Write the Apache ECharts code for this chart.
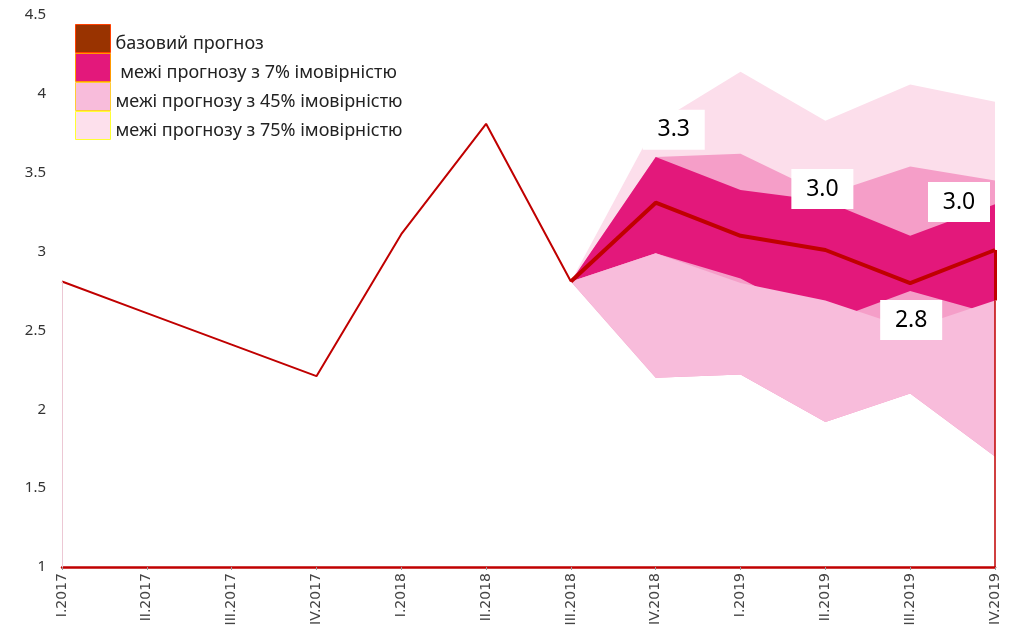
<!DOCTYPE html>
<html>
<head>
<meta charset="utf-8">
<script src="https://cdn.jsdelivr.net/npm/echarts@6/dist/echarts.min.js"></script>
<style>
  html, body { margin: 0; padding: 0; background: #fff; }
  #chart { width: 1015px; height: 630px; }
</style>
</head>
<body>
<div id="chart"></div>
<script>
var categories = ['I.2017', 'II.2017', 'III.2017', 'IV.2017', 'I.2018', 'II.2018',
                  'III.2018', 'IV.2018', 'I.2019', 'II.2019', 'III.2019', 'IV.2019'];
// фактичні дані (I.2017 - III.2018)
var actual = [2.81, 2.61, 2.41, 2.21, 3.11, 3.81, 2.81];
// прогноз (III.2018 - IV.2019)
var baseline = [2.81, 3.31, 3.10, 3.01, 2.80, 3.01];
var upper75 = [2.81, 3.81, 4.14, 3.83, 4.06, 3.95];
var upper45 = [2.81, 3.60, 3.62, 3.36, 3.54, 3.45];
var upper7 = [2.81, 3.60, 3.39, 3.32, 3.10, 3.30];
var lower7 = [2.81, 2.99, 2.83, 2.55, 2.75, 2.60];
var lower45 = [2.81, 2.99, 2.80, 2.69, 2.51, 2.69];
var lower75 = [2.81, 2.20, 2.22, 1.92, 2.10, 1.70];
var labelShown = [false, true, false, true, true, true];

var nameBase = 'базовий прогноз';
var name7 = 'межі прогнозу з 7% імовірністю';
var name45 = 'межі прогнозу з 45% імовірністю';
var name75 = 'межі прогнозу з 75% імовірністю';

var startIdx = categories.length - baseline.length;

function pad(arr) {
    var out = [];
    for (var i = 0; i < startIdx; i++) out.push('-');
    return out.concat(arr);
}

function diff(hi, lo) {
    return hi.map(function (v, i) { return +(v - lo[i]).toFixed(3); });
}

// смуга між lo та hi через stack
function band(name, lo, hi, color) {
    return [{
        name: name + '_lo',
        type: 'line',
        stack: name,
        data: pad(lo),
        symbol: 'none',
        silent: true,
        lineStyle: { width: 0, opacity: 0 }
    }, {
        name: name,
        type: 'line',
        stack: name,
        data: pad(diff(hi, lo)),
        symbol: 'none',
        silent: true,
        lineStyle: { width: 0, opacity: 0 },
        itemStyle: { color: color },
        areaStyle: { color: color, opacity: 1 }
    }];
}

var labelOffsets = [null, [18, -73], null, [-3, -61], [1, 37], [-36, -48]];

var baseData = pad(baseline.map(function (v, i) {
    if (!labelShown[i]) return v;
    return {
        value: v,
        label: {
            show: true,
            position: 'inside',
            offset: labelOffsets[i],
            formatter: function (p) { return p.value.toFixed(1); },
            backgroundColor: '#fff',
            color: '#000',
            fontSize: 23,
            fontFamily: 'Noto Sans',
            width: 38,
            height: 28,
            lineHeight: 28,
            align: 'center',
            verticalAlign: 'middle',
            padding: [6, 12]
        }
    };
}));

var series = []
    .concat(band(name75, lower75, upper75, '#fcdeeb'))
    .concat(band('_mid', lower75, upper45, '#f59ec8'))
    .concat(band(name7, lower7, upper7, '#e3187b'))
    .concat(band(name45, lower75, lower45, '#f8bcdb'));

var last = categories[categories.length - 1];

series.push({
    name: '_actual',
    type: 'line',
    data: actual,
    symbol: 'none',
    silent: true,
    lineStyle: { color: '#c00000', width: 2 },
    markLine: {
        symbol: 'none',
        silent: true,
        label: { show: false },
        lineStyle: { type: 'solid' },
        data: [
            [{ coord: [categories[0], 1] }, { coord: [categories[0], actual[0]], lineStyle: { type: 'solid', color: '#ecc8d4', width: 1 } }],
            [{ coord: [last, 1] }, { coord: [last, lower45[lower45.length - 1]], lineStyle: { type: 'solid', color: '#c00000', width: 1.5 } }],
            [{ coord: [last, lower45[lower45.length - 1]] }, { coord: [last, baseline[baseline.length - 1]], lineStyle: { type: 'solid', color: '#c00000', width: 3 } }]
        ]
    }
});

series.push({
    name: nameBase,
    type: 'line',
    data: baseData,
    symbol: 'circle',
    symbolSize: 1,
    showSymbol: true,
    silent: true,
    itemStyle: { color: '#c00000' },
    lineStyle: { color: '#c00000', width: 4 }
});

var myChart = echarts.init(document.getElementById('chart'));

var option = {
    animation: false,
    backgroundColor: '#fff',
    grid: { left: 62, right: 20, top: 15, bottom: 63 },
    legend: {
        orient: 'vertical',
        left: 75,
        top: 24,
        padding: 0,
        itemGap: 0,
        itemWidth: 35,
        itemHeight: 28,
        icon: 'rect',
        selectedMode: false,
        formatter: function (n) { return '{t|' + (n === name7 ? ' ' + n : n) + '}'; },
        textStyle: {
            fontSize: 18,
            color: '#222',
            fontFamily: 'Noto Sans',
            rich: {
                t: { fontSize: 18, color: '#222', fontFamily: 'Noto Sans', padding: [10, 0, 0, 0] }
            }
        },
        data: [
            { name: nameBase, itemStyle: { color: '#993300', borderColor: '#ff4000', borderWidth: 1 } },
            { name: name7, itemStyle: { color: '#e3187b', borderColor: '#ff9900', borderWidth: 1 } },
            { name: name45, itemStyle: { color: '#f8bcdb', borderColor: '#ffcc33', borderWidth: 1 } },
            { name: name75, itemStyle: { color: '#fde0ec', borderColor: '#ffff33', borderWidth: 1 } }
        ]
    },
    xAxis: {
        type: 'category',
        data: categories,
        boundaryGap: false,
        axisLine: { lineStyle: { color: '#c00000', width: 2.5 } },
        axisTick: { show: true, length: 3, lineStyle: { color: '#999' } },
        axisLabel: {
            rotate: 90,
            interval: 0,
            margin: 6,
            fontSize: 14,
            color: '#444',
            fontFamily: 'DejaVu Sans'
        },
        splitLine: { show: false }
    },
    yAxis: {
        type: 'value',
        min: 1,
        max: 4.5,
        interval: 0.5,
        axisLine: { show: false },
        axisTick: { show: false },
        splitLine: { show: false },
        axisLabel: { fontSize: 15, color: '#333', margin: 16, fontFamily: 'Noto Sans' }
    },
    series: series
};

myChart.setOption(option, true);
</script>
</body>
</html>
